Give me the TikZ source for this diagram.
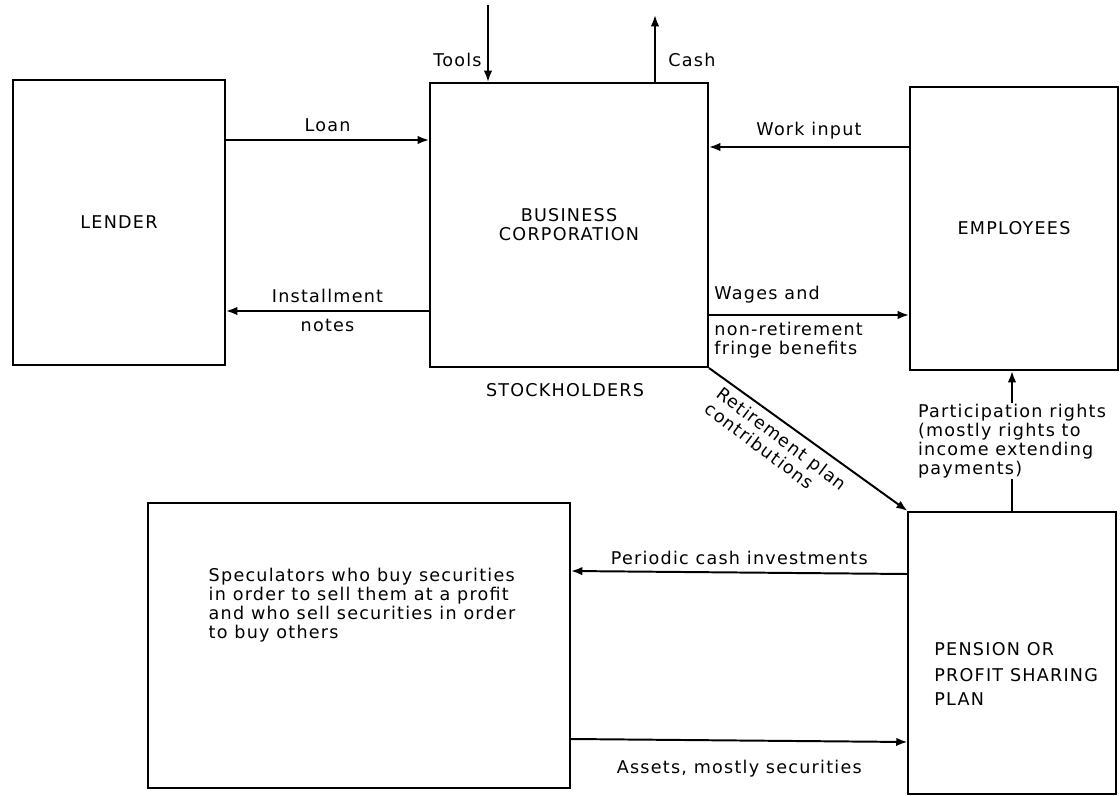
\documentclass[tikz,border=0pt]{standalone}
\usepackage{fontspec}
\setmainfont[LetterSpace=7]{DejaVu Sans}
\usetikzlibrary{arrows.meta}

\begin{document}
\begin{tikzpicture}[x=0.025cm, y=-0.025cm, line width=1.4pt,
  font=\fontsize{12.5}{13.5}\selectfont,
  box/.style={draw, inner sep=0pt},
  flow/.style={-{Latex[length=8pt,width=6pt]}},
  lbl/.style={inner sep=1pt}]
  \useasboundingbox (0,0) rectangle (1120,796);
  % the five parties
  \node[box, minimum width=5.3cm, minimum height=7.125cm] (lender) at (119,222.5) {LENDER};
  \node[box, minimum width=6.95cm, minimum height=7.1cm, align=center] (corp) at (569,225) {BUSINESS\\CORPORATION};
  \node[box, minimum width=5.2cm, minimum height=7.075cm] (empl) at (1014,228.5) {EMPLOYEES};
  \node[box, minimum width=10.55cm, minimum height=7.125cm] (spec) at (359,645.5) {};
  \node[box, minimum width=5.175cm, minimum height=7.05cm] (plan) at (1012,653) {};
  \node[lbl, align=left] (spectext) at (362,605) {Speculators who buy securities\\in order to sell them at a profit\\and who sell securities in order\\to buy others};
  \node[lbl, align=left, anchor=west] (plantext) at (932,674) {PENSION OR\\[5pt]PROFIT SHARING\\[4pt]PLAN};
  \node[lbl] (stock) at (565,390) {STOCKHOLDERS};
  % flows
  \draw[flow] (lender.east |- 0,140) -- node[lbl, above=4pt] {Loan} (corp.west |- 0,140);
  \draw[flow] (corp.west |- 0,311) -- node[lbl, above=4pt] {Installment} node[lbl, below=4pt] {notes} (lender.east |- 0,311);
  \draw[flow] (empl.west |- 0,147) -- node[lbl, above=4pt] {Work input} (corp.east |- 0,147);
  \draw[flow] (corp.east |- 0,315) -- (empl.west |- 0,315);
  \node[lbl, anchor=south west] (wages) at (712,306) {Wages and};
  \node[lbl, anchor=north west, align=left] (fringe) at (712,320) {non-retirement\\fringe benefits};
  \coordinate (toolsin) at (488,5);
  \draw[flow] (toolsin) -- (toolsin |- corp.north);
  \node[lbl, anchor=east] (tools) at (484,60) {Tools};
  \coordinate (cashout) at (655,15);
  \draw[flow] (cashout |- corp.north) -- (cashout);
  \node[lbl, anchor=west] (cash) at (666,60) {Cash};
  \draw[flow] (corp.south east) -- (plan.north west);
  \node[lbl, rotate=-37, align=left] (retire) at (776,446) {Retirement plan\\contributions};
  \draw[flow] (plan.north) -- node[lbl, fill=white, align=left] {Participation rights\\(mostly rights to\\income extending\\payments)} (plan.north |- empl.south);
  \draw[flow] (plan.west |- 0,574) -- node[lbl, above=4pt] {Periodic cash investments} (spec.east |- 0,571);
  \draw[flow] (spec.east |- 0,739) -- node[lbl, below=12pt] {Assets, mostly securities} (plan.west |- 0,742);
\end{tikzpicture}
\end{document}
